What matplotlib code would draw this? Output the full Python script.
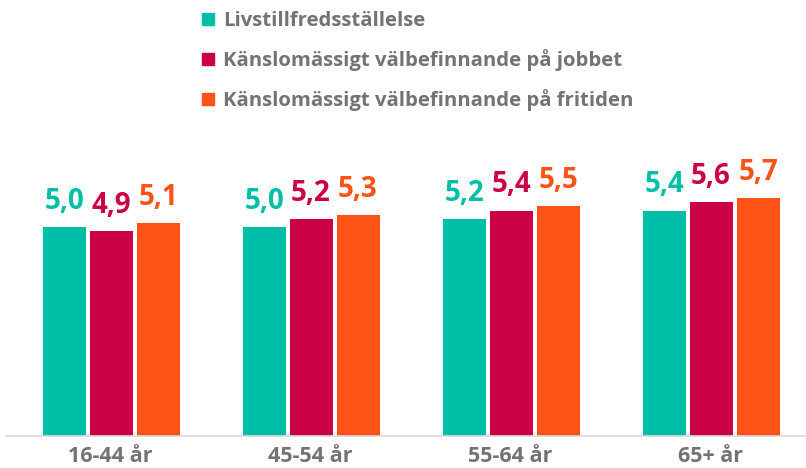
import matplotlib
matplotlib.use("Agg")
import matplotlib.pyplot as plt
from matplotlib.lines import Line2D
import numpy as np

categories = ["16-44 år", "45-54 år", "55-64 år", "65+ år"]
series_names = ["Livstillfredsställelse",
                "Känslomässigt välbefinnande på jobbet",
                "Känslomässigt välbefinnande på fritiden"]
livstillfredsstallelse = [5.0, 5.0, 5.2, 5.4]
jobbet = [4.9, 5.2, 5.4, 5.6]
fritiden = [5.1, 5.3, 5.5, 5.7]
colors = ["#00BFA8", "#CC0044", "#FF5216"]
text_gray = "#727277"

plt.rcParams['font.family'] = ['Open Sans', 'DejaVu Sans']

fig = plt.figure(figsize=(8.06, 4.68), dpi=100)
ax = fig.add_axes([6/806, 32/468, 800/806, (436-125)/468])

x = np.arange(len(categories))
w = 0.215
off = 0.235
all_series = [livstillfredsstallelse, jobbet, fritiden]
for i, (vals, c) in enumerate(zip(all_series, colors)):
    bars = ax.bar(x + (i - 1) * off + 0.005, vals, width=w, color=c, zorder=2)
    ax.bar_label(bars, labels=[f"{v:.1f}".replace('.', ',') for v in vals],
                 padding=8, color=c, fontsize=20, fontweight='bold')

ax.set_xlim(-0.52, 3.48)
ax.set_ylim(0, 7.45)
ax.set_xticks(x)
ax.set_xticklabels(categories, fontsize=15.5, fontweight='bold', color=text_gray)
ax.tick_params(axis='x', length=0, pad=7)
ax.set_yticks([])
for s in ['top', 'left', 'right']:
    ax.spines[s].set_visible(False)
ax.spines['bottom'].set_color('#d9d9d9')
ax.spines['bottom'].set_linewidth(1.2)

handles = [Line2D([], [], marker='s', linestyle='none', color=c, markersize=9) for c in colors]
leg = fig.legend(handles, series_names, loc='upper left',
                 bbox_to_anchor=(200/806, 1 - 11/468), frameon=False,
                 fontsize=14.6, labelspacing=0.88, handlelength=0.8,
                 handletextpad=0.35, borderpad=0, borderaxespad=0)
for t in leg.get_texts():
    t.set_color(text_gray)
    t.set_fontweight('bold')

fig.savefig("out.png", dpi=100)
